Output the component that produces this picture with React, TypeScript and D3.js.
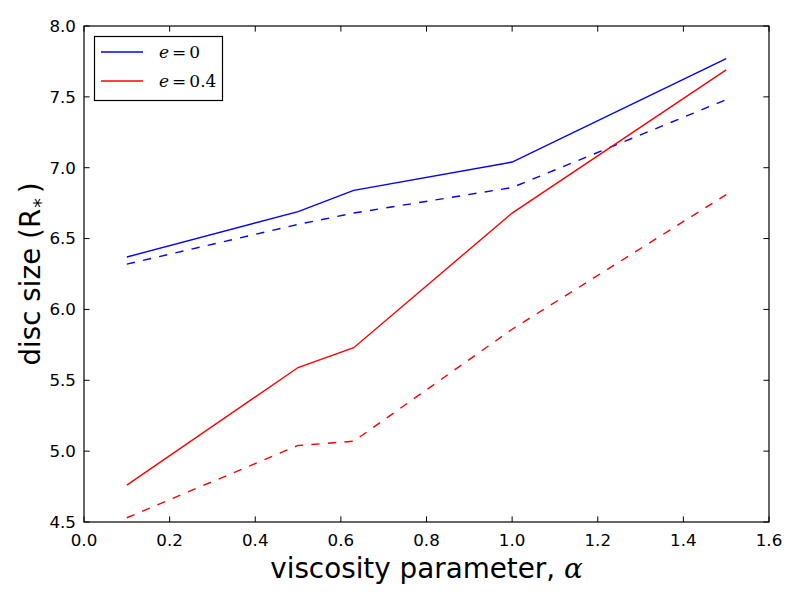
import React, { useEffect, useRef } from 'react'
import * as d3 from 'd3'

// alpha values (x) and disc sizes for each run
const alphas = [0.1, 0.5, 0.63, 1.0, 1.5]
const e0Solid = [6.37, 6.69, 6.84, 7.04, 7.77]
const e0Dashed = [6.32, 6.6, 6.68, 6.86, 7.48]
const e04Solid = [4.76, 5.59, 5.73, 6.68, 7.69]
const e04Dashed = [4.53, 5.04, 5.07, 5.86, 6.81]

const xTicks = [0.0, 0.2, 0.4, 0.6, 0.8, 1.0, 1.2, 1.4, 1.6]
const yTicks = [4.5, 5.0, 5.5, 6.0, 6.5, 7.0, 7.5, 8.0]

const series = [
  { values: e0Solid, color: '#0000ff', dashed: false },
  { values: e0Dashed, color: '#0000ff', dashed: true },
  { values: e04Solid, color: '#ff0000', dashed: false },
  { values: e04Dashed, color: '#ff0000', dashed: true },
]

const legendItems = [
  { label: '0', color: '#0000ff' },
  { label: '0.4', color: '#ff0000' },
]

export default function App() {
  const svgRef = useRef<SVGSVGElement>(null)

  useEffect(() => {
    if (!svgRef.current) return
    const width = 800
    const height = 600
    const margin = { top: 26, right: 31, bottom: 78, left: 84 }

    const x = d3.scaleLinear().domain([0, 1.6]).range([margin.left, width - margin.right])
    const y = d3.scaleLinear().domain([4.5, 8.0]).range([height - margin.bottom, margin.top])

    const svg = d3.select(svgRef.current)
    svg.selectAll('*').remove()

    svg.append('rect').attr('width', width).attr('height', height).attr('fill', '#fff')

    const line = d3.line<number>()
      .x((_, i) => x(alphas[i]))
      .y(d => y(d))

    svg.selectAll('path.series')
      .data(series)
      .enter().append('path')
      .attr('class', 'series')
      .attr('d', d => line(d.values))
      .attr('fill', 'none')
      .attr('stroke', d => d.color)
      .attr('stroke-width', 1.4)
      .attr('stroke-dasharray', d => d.dashed ? '8.3,8.3' : null)

    const font = 'DejaVu Sans, sans-serif'
    const tickLen = 5.6
    const x0 = margin.left
    const x1 = width - margin.right
    const y0 = height - margin.bottom
    const y1 = margin.top

    // ticks pointing inward on all four sides
    const tickG = svg.append('g').attr('stroke', '#000').attr('stroke-width', 1)
    xTicks.forEach(t => {
      tickG.append('line').attr('x1', x(t)).attr('x2', x(t)).attr('y1', y0).attr('y2', y0 - tickLen)
      tickG.append('line').attr('x1', x(t)).attr('x2', x(t)).attr('y1', y1).attr('y2', y1 + tickLen)
    })
    yTicks.forEach(t => {
      tickG.append('line').attr('x1', x0).attr('x2', x0 + tickLen).attr('y1', y(t)).attr('y2', y(t))
      tickG.append('line').attr('x1', x1).attr('x2', x1 - tickLen).attr('y1', y(t)).attr('y2', y(t))
    })

    svg.append('rect')
      .attr('x', x0).attr('y', y1)
      .attr('width', x1 - x0).attr('height', y0 - y1)
      .attr('fill', 'none').attr('stroke', '#000').attr('stroke-width', 1.2)

    svg.selectAll('text.xtick')
      .data(xTicks)
      .enter().append('text')
      .attr('class', 'xtick')
      .attr('x', d => x(d))
      .attr('y', y0 + 24)
      .attr('text-anchor', 'middle')
      .style('font-family', font)
      .style('font-size', '16.7px')
      .text(d => d.toFixed(1))

    svg.selectAll('text.ytick')
      .data(yTicks)
      .enter().append('text')
      .attr('class', 'ytick')
      .attr('x', x0 - 8)
      .attr('y', d => y(d))
      .attr('dy', '0.35em')
      .attr('text-anchor', 'end')
      .style('font-family', font)
      .style('font-size', '16.7px')
      .text(d => d.toFixed(1))

    // x label
    const xl = svg.append('text')
      .attr('x', (x0 + x1) / 2)
      .attr('y', 578)
      .attr('text-anchor', 'middle')
      .style('font-family', font)
      .style('font-size', '27.8px')
    xl.append('tspan').text('viscosity parameter, ')
    xl.append('tspan').style('font-family', 'DejaVu Serif, serif').style('font-style', 'italic').text('α')

    // y label
    const yl = svg.append('text')
      .attr('transform', `translate(40,${(y0 + y1) / 2}) rotate(-90)`)
      .attr('text-anchor', 'middle')
      .style('font-family', font)
      .style('font-size', '27.8px')
    yl.append('tspan').text('disc size (R')
    yl.append('tspan').attr('dy', 7).attr('dx', 1).style('font-size', '19px').text('*')
    yl.append('tspan').attr('dy', -7).attr('dx', 5).text(')')

    // legend
    const lg = svg.append('g')
    lg.append('rect')
      .attr('x', 94.5).attr('y', 36.5)
      .attr('width', 128).attr('height', 64)
      .attr('fill', '#fff').attr('stroke', '#000').attr('stroke-width', 1.2)
    legendItems.forEach((item, i) => {
      const ly = 52 + i * 29
      lg.append('line')
        .attr('x1', 101).attr('x2', 143)
        .attr('y1', ly).attr('y2', ly)
        .attr('stroke', item.color).attr('stroke-width', 1.4)
      const t = lg.append('text')
        .attr('x', 159).attr('y', ly + 6)
        .style('font-family', 'DejaVu Serif, serif')
        .style('font-size', '17px')
      t.append('tspan').style('font-style', 'italic').text('e')
      t.append('tspan').attr('dx', 3).text('=')
      t.append('tspan').attr('dx', 3).text(item.label)
    })
  }, [])

  return (
    <div style={{ position: 'fixed', left: 0, top: 0 }}>
      <svg ref={svgRef} width={800} height={600} style={{ display: 'block' }} />
    </div>
  )
}
